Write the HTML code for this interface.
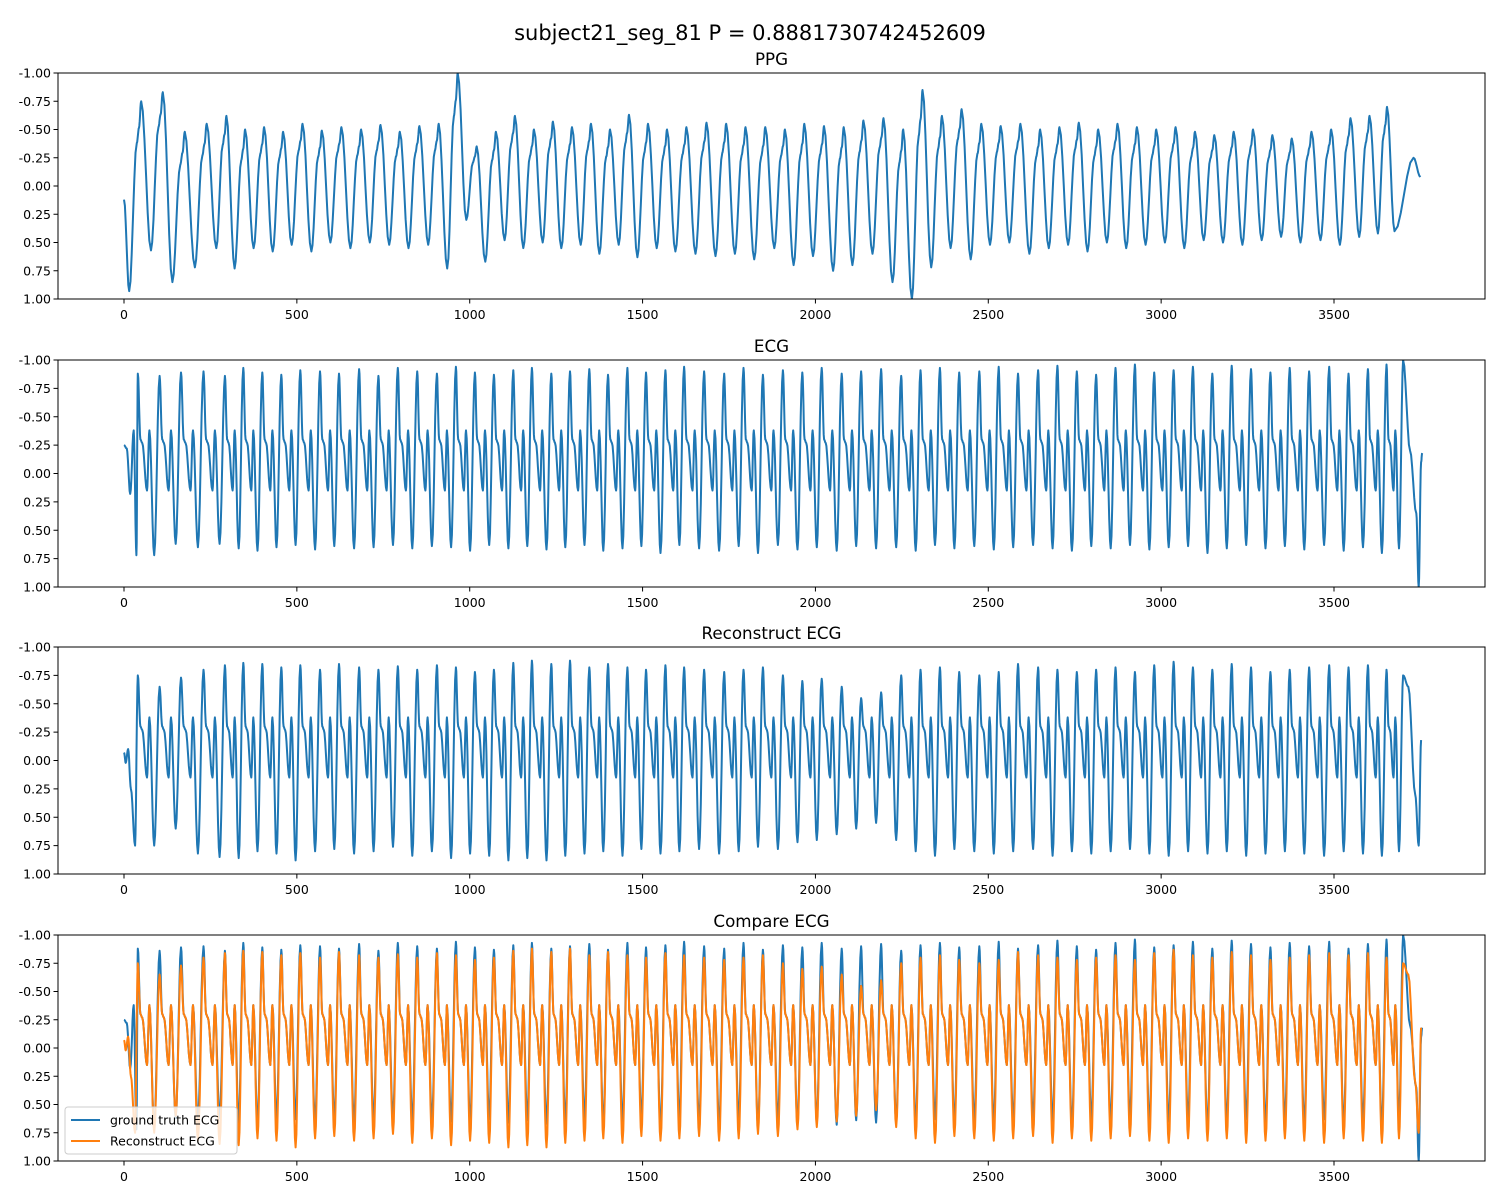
<!DOCTYPE html>
<html><head><meta charset="utf-8">
<style>
body{margin:0;background:#fff;}
svg{display:block;font-family:"DejaVu Sans","Liberation Sans",sans-serif;}
</style></head>
<body>
<svg id="fig" width="1500" height="1200" viewBox="0 0 1500 1200">
<text x="750" y="40" text-anchor="middle" font-size="21">subject21_seg_81 P = 0.8881730742452609</text>
</svg>
<script>
const xTicks=[0,500,1000,1500,2000,2500,3000,3500];
const yTicks=[-1.00,-0.75,-0.50,-0.25,0.00,0.25,0.50,0.75,1.00];
const beatTimes=[40,103,165,230,292,345,400,455,510,567,622,680,736,792,848,905,960,1015,1070,1126,1180,1236,1290,1346,1400,1456,1510,1566,1620,1678,1736,1792,1848,1906,1962,2018,2076,2132,2190,2248,2304,2360,2416,2474,2530,2586,2644,2700,2756,2812,2868,2924,2980,3036,3092,3148,3204,3260,3316,3372,3428,3486,3542,3598,3652,3700];
const ecgR=[-0.88,-0.86,-0.89,-0.90,-0.86,-0.93,-0.89,-0.87,-0.91,-0.90,-0.88,-0.92,-0.86,-0.93,-0.90,-0.88,-0.94,-0.89,-0.87,-0.91,-0.93,-0.88,-0.90,-0.92,-0.87,-0.93,-0.89,-0.91,-0.94,-0.90,-0.88,-0.93,-0.87,-0.91,-0.89,-0.93,-0.88,-0.90,-0.92,-0.86,-0.91,-0.93,-0.89,-0.90,-0.94,-0.88,-0.91,-0.95,-0.90,-0.87,-0.93,-0.96,-0.89,-0.91,-0.94,-0.88,-0.95,-0.92,-0.89,-0.93,-0.90,-0.94,-0.88,-0.92,-0.96,-1.00];
const ecgS=[0.72,0.62,0.65,0.62,0.66,0.68,0.65,0.63,0.67,0.64,0.66,0.65,0.63,0.66,0.64,0.65,0.68,0.63,0.66,0.64,0.67,0.65,0.63,0.68,0.66,0.64,0.70,0.63,0.66,0.68,0.64,0.70,0.63,0.67,0.65,0.68,0.64,0.66,0.65,0.68,0.63,0.66,0.64,0.67,0.65,0.63,0.66,0.68,0.64,0.66,0.63,0.67,0.65,0.64,0.70,0.66,0.63,0.66,0.64,0.67,0.63,0.68,0.65,0.70,0.66,0.64];
const ppgPeak=[-0.75,-0.83,-0.48,-0.55,-0.62,-0.50,-0.52,-0.48,-0.55,-0.49,-0.52,-0.50,-0.54,-0.48,-0.53,-0.55,-1.00,-0.35,-0.48,-0.62,-0.50,-0.57,-0.52,-0.55,-0.50,-0.63,-0.55,-0.50,-0.52,-0.56,-0.55,-0.52,-0.52,-0.50,-0.55,-0.53,-0.52,-0.58,-0.60,-0.50,-0.85,-0.62,-0.68,-0.55,-0.53,-0.55,-0.50,-0.52,-0.56,-0.50,-0.55,-0.52,-0.50,-0.52,-0.48,-0.45,-0.48,-0.50,-0.45,-0.42,-0.48,-0.50,-0.60,-0.62,-0.70,-0.25];
const ppgTrough=[0.93,0.57,0.85,0.72,0.55,0.73,0.55,0.58,0.52,0.58,0.50,0.55,0.50,0.52,0.55,0.52,0.73,0.30,0.67,0.48,0.55,0.50,0.55,0.52,0.60,0.52,0.63,0.55,0.58,0.60,0.62,0.60,0.65,0.55,0.70,0.62,0.75,0.70,0.60,0.85,1.00,0.72,0.55,0.65,0.52,0.50,0.60,0.55,0.52,0.58,0.50,0.55,0.52,0.50,0.55,0.48,0.50,0.52,0.48,0.45,0.50,0.48,0.52,0.45,0.42,0.40];
const recR=[-0.75,-0.65,-0.73,-0.80,-0.84,-0.86,-0.85,-0.82,-0.84,-0.80,-0.85,-0.82,-0.80,-0.83,-0.80,-0.84,-0.82,-0.78,-0.80,-0.86,-0.88,-0.85,-0.88,-0.82,-0.85,-0.82,-0.80,-0.84,-0.82,-0.80,-0.78,-0.80,-0.82,-0.75,-0.70,-0.72,-0.65,-0.55,-0.60,-0.75,-0.80,-0.82,-0.78,-0.75,-0.78,-0.85,-0.82,-0.80,-0.78,-0.80,-0.82,-0.78,-0.84,-0.87,-0.82,-0.80,-0.85,-0.82,-0.78,-0.80,-0.82,-0.84,-0.82,-0.84,-0.80,-0.75];
const recS=[0.75,0.60,0.82,0.85,0.86,0.80,0.82,0.88,0.80,0.78,0.82,0.80,0.76,0.84,0.80,0.86,0.82,0.84,0.88,0.86,0.88,0.84,0.82,0.80,0.84,0.78,0.82,0.80,0.78,0.82,0.80,0.76,0.78,0.72,0.70,0.65,0.60,0.55,0.70,0.80,0.84,0.78,0.80,0.82,0.80,0.78,0.84,0.80,0.82,0.80,0.78,0.82,0.84,0.80,0.82,0.80,0.84,0.82,0.80,0.82,0.84,0.80,0.82,0.84,0.80,0.75];

const NS="http://www.w3.org/2000/svg";
const svg=document.getElementById('fig');
const L=58,R=1485;
const panels=[{top:73,bot:299,title:'PPG',name:'ppg'},{top:360,bot:587,title:'ECG',name:'ecg'},{top:647,bot:874,title:'Reconstruct ECG',name:'reconstruct-ecg'},{top:935,bot:1161,title:'Compare ECG',name:'compare-ecg'}];
function xs(t){return 124+(t)*(1210/3500);}
function mk(tag,attrs,parent){const e=document.createElementNS(NS,tag);for(const k in attrs)e.setAttribute(k,attrs[k]);(parent||svg).appendChild(e);return e;}

function period(i){return i<beatTimes.length-1?beatTimes[i+1]-beatTimes[i]:beatTimes[i]-beatTimes[i-1];}
function ecgKeys(Rv,Sv,start,endPts){
  const k=start.slice();
  for(let i=0;i<beatTimes.length;i++){
    const t=beatTimes[i],P=period(i);
    k.push([t,Rv[i]]);
    if(i===beatTimes.length-1)break;
    k.push([t+0.12*P,-0.30]);k.push([t+0.2*P,-0.27]);
    k.push([t+0.42*P,0.15]);k.push([t+0.53*P,-0.38]);
    k.push([t+0.75*P,Sv[i]]);
  }
  return k.concat(endPts);
}
function ppgKeys(){
  const k=[[0,0.12]];
  for(let i=0;i<beatTimes.length;i++){
    const t=beatTimes[i]-25,P=period(i);
    const q=ppgTrough[i],p=ppgPeak[i];
    k.push([Math.max(t,14),q]);
    if(i===beatTimes.length-1){k.push([3730,p]);k.push([3750,-0.08]);break;}
    k.push([t+0.35*P,q+0.78*(p-q)]);k.push([t+0.45*P,q+0.86*(p-q)]);
    k.push([t+0.55*P,p]);
  }
  return k;
}
function curve(keys,top,bot){
  const ys=v=>top+(v+1)/2*(bot-top);
  let d='';
  for(let i=0;i<keys.length-1;i++){
    const [t0,v0]=keys[i],[t1,v1]=keys[i+1];
    const n=6;
    for(let j=0;j<=n;j++){
      if(i>0&&j===0)continue;
      const f=j/n,s=(1-Math.cos(Math.PI*f))/2;
      const v=v0+(v1-v0)*s,t=t0+(t1-t0)*f;
      d+=(d?'L':'M')+xs(t).toFixed(1)+','+ys(v).toFixed(1);
    }
  }
  return d;
}
const ecgK=ecgKeys(ecgR,ecgS,[[0,-0.25],[8,-0.22],[18,0.18],[28,-0.38],[36,0.72]],[[3720,-0.2],[3738,0.35],[3745,1.0],[3752,-0.1],[3755,-0.18]]);
const recK=ecgKeys(recR,recS,[[0,-0.07],[5,0.02],[12,-0.1],[20,0.25],[32,0.75]],[[3715,-0.65],[3735,0.3],[3745,0.75],[3752,-0.18]]);

panels.forEach((p,pi)=>{
  const g=mk('g',{});
  mk('text',{x:(L+R)/2,y:p.top-8,'text-anchor':'middle','font-size':'16.7',},g).textContent=p.title;
  const clip=mk('clipPath',{id:'c'+pi},g);mk('rect',{x:L,y:p.top,width:R-L,height:p.bot-p.top},clip);
  const ys=v=>p.top+(v+1)/2*(p.bot-p.top);
  xTicks.forEach(t=>{
    const x=xs(t);
    const tk=mk('line',{x1:x,x2:x,y1:p.bot,y2:p.bot+4.5,stroke:'#000','stroke-width':1},g);
    
    const tl=mk('text',{x:x,y:p.bot+20,'text-anchor':'middle','font-size':'12.5'},g);
    
    tl.textContent=t;
  });
  yTicks.forEach(v=>{
    const y=ys(v);
    const tk=mk('line',{x1:L-4.5,x2:L,y1:y,y2:y,stroke:'#000','stroke-width':1},g);
    
    const tl=mk('text',{x:L-7,y:y+4.5,'text-anchor':'end','font-size':'12.5'},g);
    
    tl.textContent=v.toFixed(2);
  });
  const lines=[];
  if(pi===0)lines.push([ppgKeys(),'#1f77b4','ppg-line']);
  if(pi===1)lines.push([ecgK,'#1f77b4','ecg-line']);
  if(pi===2)lines.push([recK,'#1f77b4','reconstruct-ecg-line']);
  if(pi===3){lines.push([ecgK,'#1f77b4','ground-truth-line']);lines.push([recK,'#ff7f0e','reconstruct-line']);}
  lines.forEach(([k,c,n])=>{
    const path=mk('path',{d:curve(k,p.top,p.bot),fill:'none',stroke:c,'stroke-width':2,'stroke-linejoin':'round','clip-path':'url(#c'+pi+')'},g);
    
  });
  mk('rect',{x:L,y:p.top,width:R-L,height:p.bot-p.top,fill:'none',stroke:'#000','stroke-width':1,},g);
  if(pi===3){
    const lg=mk('g',{},g);
    mk('rect',{x:65,y:1107,width:172,height:47,rx:3,fill:'#fff','fill-opacity':0.8,stroke:'#ccc'},lg);
    mk('line',{x1:71,x2:100,y1:1120,y2:1120,stroke:'#1f77b4','stroke-width':2,},lg);
    mk('text',{x:110,y:1124.5,'font-size':'12.5',},lg).textContent='ground truth ECG';
    mk('line',{x1:71,x2:100,y1:1141,y2:1141,stroke:'#ff7f0e','stroke-width':2,},lg);
    mk('text',{x:110,y:1145.5,'font-size':'12.5',},lg).textContent='Reconstruct ECG';
  }
});
</script>
</body></html>
